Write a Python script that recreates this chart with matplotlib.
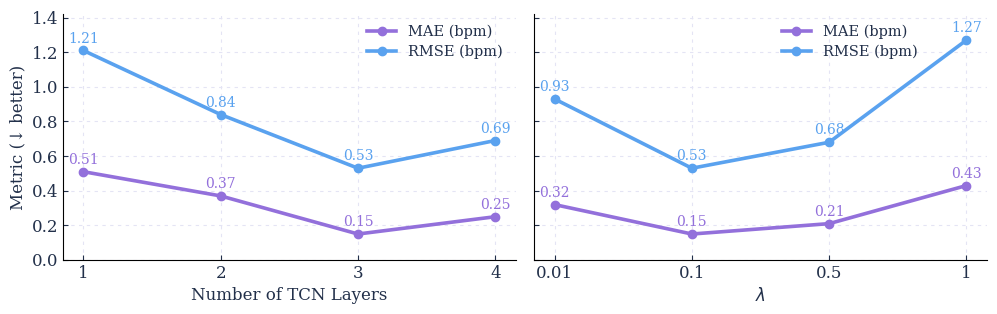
import matplotlib
matplotlib.use("Agg")
import matplotlib.pyplot as plt

# data
layers = ["1", "2", "3", "4"]
layers_mae = [0.51, 0.37, 0.15, 0.25]
layers_rmse = [1.21, 0.84, 0.53, 0.69]

lambdas = ["0.01", "0.1", "0.5", "1"]
lambda_mae = [0.32, 0.15, 0.21, 0.43]
lambda_rmse = [0.93, 0.53, 0.68, 1.27]

MAE_C = "#9370DB"
RMSE_C = "#5AA2EF"
TXT = "#22304a"

plt.rcParams["font.family"] = ["DejaVu Serif"]
plt.rcParams["text.color"] = TXT
plt.rcParams["axes.labelcolor"] = TXT
plt.rcParams["xtick.color"] = TXT
plt.rcParams["ytick.color"] = TXT

fig, (ax1, ax2) = plt.subplots(1, 2, figsize=(9.97, 3.14), dpi=100, sharey=True)
fig.subplots_adjust(left=0.063, right=0.99, top=0.955, bottom=0.172, wspace=0.04)


def panel(ax, labels, mae, rmse):
  xs = list(range(len(labels)))
  ax.plot(xs, mae, color=MAE_C, lw=2.6, marker="o", ms=6, label="MAE (bpm)")
  ax.plot(xs, rmse, color=RMSE_C, lw=2.6, marker="o", ms=6, label="RMSE (bpm)")
  for x, v in zip(xs, mae):
    ax.annotate(f"{v:.2f}", (x, v), xytext=(0, 3.5), textcoords="offset points",
                ha="center", va="bottom", color=MAE_C, fontsize=10)
  for x, v in zip(xs, rmse):
    ax.annotate(f"{v:.2f}", (x, v), xytext=(0, 3.5), textcoords="offset points",
                ha="center", va="bottom", color=RMSE_C, fontsize=10)
  ax.set_xticks(xs)
  ax.set_xticklabels(labels)
  ax.grid(True, ls=(0, (3, 4)), color="#e4e4f4", lw=0.8)
  ax.set_axisbelow(True)
  for s in ("top", "right"):
    ax.spines[s].set_visible(False)
  ax.tick_params(direction="in", labelsize=12, length=3.5)


panel(ax1, layers, layers_mae, layers_rmse)
panel(ax2, lambdas, lambda_mae, lambda_rmse)

ax1.set_ylim(0, 1.42)
ax1.set_yticks([0.0, 0.2, 0.4, 0.6, 0.8, 1.0, 1.2, 1.4])
ax1.set_ylabel("Metric (↓ better)", fontsize=12)
ax1.set_xlabel("Number of TCN Layers", fontsize=12)
ax2.set_xlabel(r"$\lambda$", fontsize=12)

ax1.legend(loc="upper right", bbox_to_anchor=(1.0, 1.01), frameon=False,
           fontsize=10.5, labelspacing=0.35)
ax2.legend(loc="upper right", bbox_to_anchor=(0.875, 1.01), frameon=False,
           fontsize=10.5, labelspacing=0.35)

fig.savefig("out.png", dpi=100)
